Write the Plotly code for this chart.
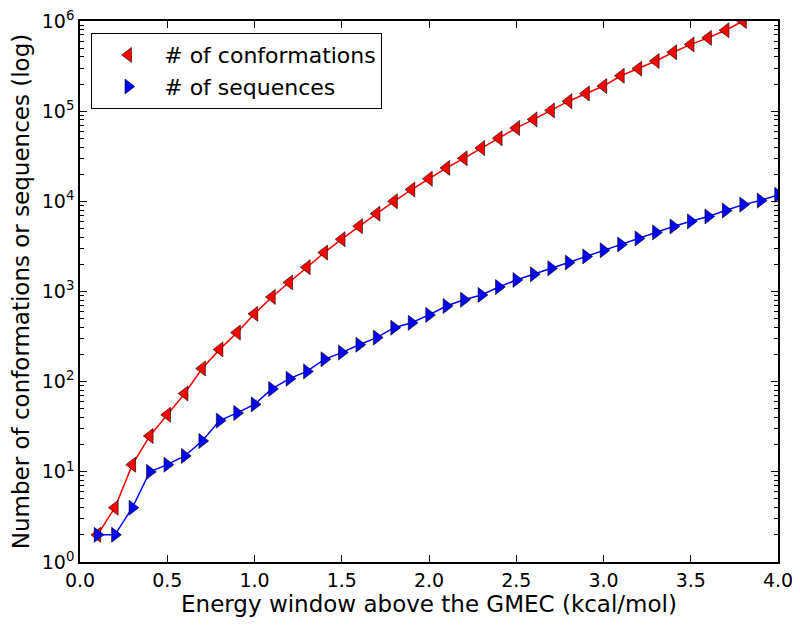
import plotly.graph_objects as go

energy_conf = [0.1, 0.2, 0.3, 0.4, 0.5, 0.6, 0.7, 0.8, 0.9, 1.0,
               1.1, 1.2, 1.3, 1.4, 1.5, 1.6, 1.7, 1.8, 1.9, 2.0,
               2.1, 2.2, 2.3, 2.4, 2.5, 2.6, 2.7, 2.8, 2.9, 3.0,
               3.1, 3.2, 3.3, 3.4, 3.5, 3.6, 3.7, 3.8]
conformations = [2, 4, 12, 25, 43, 74, 140, 228, 350, 565,
                 870, 1260, 1860, 2700, 3800, 5300, 7300, 10000, 13500, 17800,
                 23500, 30000, 39000, 50000, 65000, 81000, 102000, 129000, 157000, 190000,
                 247000, 296000, 360000, 450000, 550000, 650000, 790000, 1000000]

energy_seq = [0.1, 0.2, 0.3, 0.4, 0.5, 0.6, 0.7, 0.8, 0.9, 1.0,
              1.1, 1.2, 1.3, 1.4, 1.5, 1.6, 1.7, 1.8, 1.9, 2.0,
              2.1, 2.2, 2.3, 2.4, 2.5, 2.6, 2.7, 2.8, 2.9, 3.0,
              3.1, 3.2, 3.3, 3.4, 3.5, 3.6, 3.7, 3.8, 3.9, 4.0]
sequences = [2, 2, 4, 10, 12, 15, 22, 37, 45, 56,
             83, 108, 130, 177, 210, 257, 308, 397, 450, 550,
             690, 810, 915, 1120, 1340, 1550, 1810, 2100, 2450, 2860,
             3330, 3880, 4520, 5270, 6000, 6800, 7900, 9200, 10200, 11800]

x_ticks = [0.0, 0.5, 1.0, 1.5, 2.0, 2.5, 3.0, 3.5, 4.0]
y_ticks = [1, 10, 100, 1000, 10000, 100000, 1000000]
y_ticktext = ["10<sup>0</sup>", "10<sup>1</sup>", "10<sup>2</sup>", "10<sup>3</sup>",
              "10<sup>4</sup>", "10<sup>5</sup>", "10<sup>6</sup>"]
y_minor = [m * 10 ** k for k in range(6) for m in range(2, 10)]

FONT = "DejaVu Sans"

fig = go.Figure()
fig.add_trace(go.Scatter(x=energy_conf, y=conformations, mode="lines",
                         line=dict(color="#ff0000", width=1.5), showlegend=False,
                         hoverinfo="skip"))
fig.add_trace(go.Scatter(x=energy_conf, y=conformations, mode="markers",
                         name="# of conformations",
                         marker=dict(symbol="triangle-left", size=13, color="#ff0000",
                                     line=dict(color="#000000", width=0.6))))
fig.add_trace(go.Scatter(x=energy_seq, y=sequences, mode="lines",
                         line=dict(color="#0000ff", width=1.5), showlegend=False,
                         hoverinfo="skip"))
fig.add_trace(go.Scatter(x=energy_seq, y=sequences, mode="markers",
                         name="# of sequences",
                         marker=dict(symbol="triangle-right", size=13, color="#0000ff",
                                     line=dict(color="#000000", width=0.6))))

# The page body has an 8px margin, so the figure is shifted by 8px right/down.
fig.update_layout(
    width=784, height=610,
    margin=dict(l=72, r=14, t=13, b=56),
    paper_bgcolor="white", plot_bgcolor="white",
    font=dict(family=FONT, size=19, color="black"),
    legend=dict(x=0.0158, y=0.978, xanchor="left", yanchor="top",
                bgcolor="white", bordercolor="black", borderwidth=1.2,
                font=dict(family=FONT, size=22), itemwidth=62,
                tracegroupgap=0),
    xaxis=dict(range=[0, 4], tickvals=x_ticks, tickformat=".1f",
               ticks="inside", ticklen=7, tickwidth=1, tickcolor="black",
               showline=True, linecolor="black", linewidth=1.6, mirror="allticks",
               showgrid=False, zeroline=False, automargin=False,
               ticklabeloverflow="allow",
               title=dict(text="Energy window above the GMEC (kcal/mol)",
                          font=dict(size=23), standoff=6)),
    yaxis=dict(type="log", range=[0, 6], tickvals=y_ticks, ticktext=y_ticktext,
               ticks="inside", ticklen=7, tickwidth=1, tickcolor="black",
               showline=True, linecolor="black", linewidth=1.6, mirror="allticks",
               showgrid=False, zeroline=False, automargin=False,
               ticklabeloverflow="allow",
               minor=dict(tickvals=y_minor, ticks="inside", ticklen=4,
                          tickcolor="black", tickwidth=1, showgrid=False),
               title=dict(text="Number of conformations or sequences (log)",
                          font=dict(size=23), standoff=8)),
)

fig.write_html("out.html")
